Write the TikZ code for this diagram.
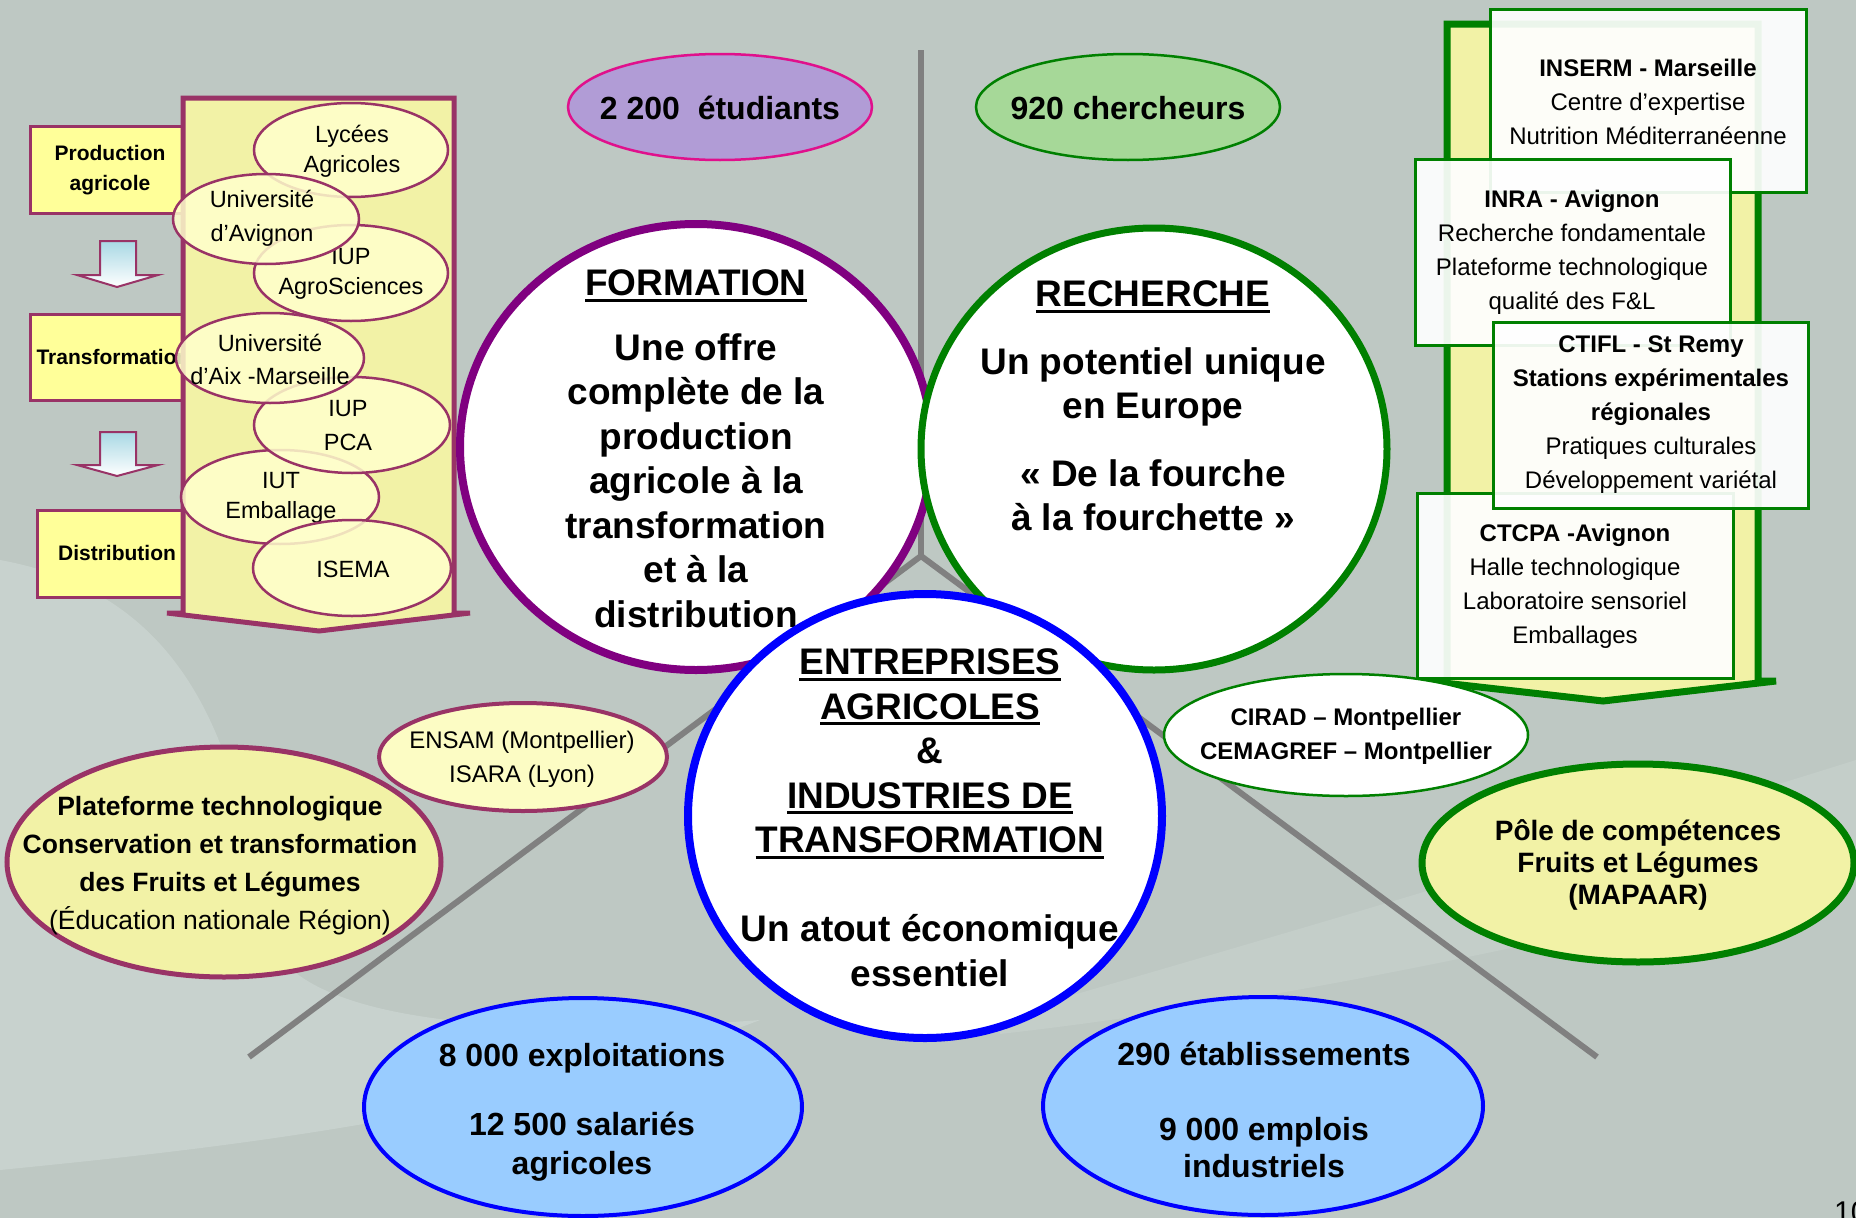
\documentclass[tikz,border=0pt]{standalone}
\usepackage{fontspec}
\setmainfont{Liberation Sans}
\usepackage{tikz}

\definecolor{bgGray}{RGB}{190,200,195}
\definecolor{bgLight}{RGB}{200,210,206}
\definecolor{plum}{RGB}{153,51,102}
\definecolor{boxYellow}{RGB}{255,255,153}
\definecolor{panelYellow}{RGB}{242,242,166}
\definecolor{paleYellow}{RGB}{255,255,204}
\definecolor{lavender}{RGB}{177,156,214}
\definecolor{pinkLine}{RGB}{224,16,140}
\definecolor{mint}{RGB}{166,216,152}
\definecolor{leaf}{RGB}{0,128,0}
\definecolor{purpleRing}{RGB}{128,0,128}
\definecolor{skyBlue}{RGB}{153,204,255}
\definecolor{arrowBlue}{RGB}{168,216,228}
\definecolor{spokeGray}{RGB}{128,128,128}

\def\sz#1#2{\fontsize{#1}{#2}\selectfont}
\def\ulined#1{\setbox0\hbox{#1}\rlap{\rule[-6pt]{\wd0}{3pt}}\box0}

\tikzset{
  spoke/.style={line width=6pt, draw=spokeGray},
  stagebox/.style={line width=3pt, draw=plum, fill=boxYellow},
  stagetext/.style={inner sep=0pt, align=center, font=\sz{21}{30}\bfseries},
  downarrow/.style={line width=2pt, draw=plum, top color=arrowBlue, bottom color=white},
  school/.style={line width=2.5pt, draw=plum, fill=paleYellow, fill opacity=0.85},
  schooltext/.style={inner sep=0pt, align=center, font=\sz{23.5}{30}},
  labobox/.style={line width=3pt, draw=leaf, fill=white, fill opacity=0.92},
  labotext/.style={inner sep=0pt, align=center, font=\sz{24}{34}},
  figtext/.style={inner sep=0pt, align=center, font=\sz{32}{38}\bfseries},
  ringtext/.style={inner sep=0pt, align=center, font=\sz{37}{44.5}\bfseries},
}

\begin{document}
\begin{tikzpicture}[x=1pt, y=-1pt]
			%%%%% START %%%%%
			
			\fill[bgGray] (0,0) rectangle (1856,1218);
			\useasboundingbox (0,0) rectangle (1856,1218);
			
			% light swooshes of the slide background
			\fill[bgLight] (0,560) .. controls (220,600) and (240,800) .. (270,940) .. controls (300,1020) and (500,1040) .. (760,1020) .. controls (500,1120) and (200,1150) .. (0,1170) -- cycle;
			\fill[bgLight, opacity=0.6] (1000,1016) .. controls (1300,930) and (1600,840) .. (1856,760) -- (1856,870) .. controls (1600,930) and (1300,1000) .. (1000,1034) -- cycle;
			
			% the Y behind the three circles
			\coordinate (hub) at (921,556);
			\coordinate (spokeTop) at (921,50);
			\coordinate (spokeLeft) at (249,1057);
			\coordinate (spokeRight) at (1597,1057);
			\draw[spoke] (spokeTop) -- (hub);
			\draw[spoke] (hub) -- (spokeLeft);
			\draw[spoke] (hub) -- (spokeRight);
			
			\draw[line width=2.5pt, draw=pinkLine, fill=lavender] (720,107) ellipse (152 and 53);
			\node[figtext] (students) at (720,108) {2 200 \ étudiants};
			\draw[line width=2.5pt, draw=leaf, fill=mint] (1128,107) ellipse (152 and 53);
			\node[figtext] (researchers) at (1128,108) {920 chercheurs};
			
			% chain on the left
			\draw[stagebox] (30,126) rectangle (196,213);
			\node[stagetext] (production) at (110,170) {Production\\ agricole};
			\draw[stagebox] (30,314) rectangle (196,400);
			\node[stagetext] (transformation) at (113,357) {Transformation};
			\draw[stagebox] (37,510) rectangle (196,597);
			\node[stagetext] (distribution) at (117,553) {Distribution};
			
			\draw[downarrow] (100,241) -- (136,241) -- (136,275) -- (158,275) -- (117,287) -- (77,275) -- (100,275) -- cycle;
			\draw[downarrow] (100,432) -- (136,432) -- (136,465) -- (158,465) -- (117,476) -- (77,465) -- (100,465) -- cycle;
			
			\draw[line width=5pt, draw=plum, fill=panelYellow] (167,613) -- (183,613) -- (183,98) -- (454,98) -- (454,613) -- (470,613) -- (319,631) -- cycle;
			
			\draw[school] (351,150) ellipse (97 and 47);
			\node[schooltext] (lycees) at (352,151) {Lycées\\ Agricoles};
			\draw[school] (351,273) ellipse (97 and 48);
			\node[schooltext] (iupAgro) at (351,274) {IUP\\ AgroSciences};
			\draw[school] (266,219) ellipse (93 and 45);
			\node[schooltext, font=\sz{23.5}{34}] (univAvignon) at (262,218) {Université\\ d’Avignon};
			\draw[school] (280,497) ellipse (99 and 47);
			\node[schooltext] (iutEmb) at (281,498) {IUT\\ Emballage};
			\draw[school] (352,425) ellipse (98 and 48);
			\node[schooltext, font=\sz{23.5}{34}] (iupPca) at (348,426) {IUP\\ PCA};
			\draw[school] (270,358) ellipse (94 and 45);
			\node[schooltext, font=\sz{23.5}{33}] (univAix) at (270,359) {Université\\ d’Aix -Marseille};
			\draw[school] (352,568) ellipse (99 and 48);
			\node[schooltext] (isema) at (353,569) {ISEMA};
			
			% research centres on the right
			\draw[line width=7pt, draw=leaf, fill=panelYellow] (1426,681) -- (1447,681) -- (1447,24) -- (1758,24) -- (1758,681) -- (1776,681) -- (1603,701) -- cycle;
			
			\draw[labobox] (1490,9) rectangle (1806,192);
			\node[labotext] (inserm) at (1648,102) {\bfseries INSERM - Marseille\\ Centre d’expertise\\ Nutrition Méditerranéenne};
			\draw[labobox] (1415,159) rectangle (1730,345);
			\node[labotext] (inra) at (1572,252) {\bfseries INRA - Avignon\\ Recherche fondamentale\\ Plateforme technologique\\ qualité des F\&L};
			\draw[labobox] (1417,493) rectangle (1733,678);
			\node[labotext] (ctcpa) at (1575,586) {\bfseries CTCPA -Avignon\\ Halle technologique\\ Laboratoire sensoriel\\ Emballages};
			\draw[labobox] (1493,322) rectangle (1808,508);
			\node[labotext] (ctifl) at (1651,415) {\bfseries CTIFL - St Remy\\ \bfseries Stations expérimentales\\ \bfseries régionales\\ Pratiques culturales\\ Développement variétal};
			
			% the three poles
			\draw[line width=8pt, draw=purpleRing, fill=white] (696,447) ellipse (236 and 223);
			\draw[line width=7pt, draw=leaf, fill=white] (1154,449) ellipse (233 and 221);
			\node[ringtext] (formation) at (696,449) {\ulined{FORMATION}\\[20pt] Une offre\\ complète de la\\ production\\ agricole à la\\ transformation\\ et à la\\ distribution};
			\node[ringtext] (recherche) at (1153,406) {\ulined{RECHERCHE}\\[23pt] Un potentiel unique\\ en Europe\\[23pt] « De la fourche\\ à la fourchette »};
			\draw[line width=8pt, draw=blue, fill=white] (925,816) ellipse (237 and 222);
			\node[ringtext] (entreprises) at (930,818) {\ulined{ENTREPRISES}\\ \ulined{AGRICOLES}\\ \&\\ \ulined{INDUSTRIES DE}\\ \ulined{TRANSFORMATION}\\[44.5pt] Un atout économique\\ essentiel};
			
			% partners round the poles
			\draw[line width=4pt, draw=plum, fill=paleYellow!80!panelYellow] (523,757) ellipse (144 and 54);
			\node[inner sep=0pt, align=center, font=\sz{24}{34}] (ensam) at (522,759) {ENSAM (Montpellier)\\ ISARA (Lyon)};
			\draw[line width=5pt, draw=plum, fill=panelYellow] (224,862) ellipse (217 and 115);
			\node[inner sep=0pt, align=center, font=\sz{26.5}{38}\bfseries] (plateforme) at (220,866) {Plateforme technologique\\ Conservation et transformation\\ des Fruits et Légumes\\ \mdseries(Éducation nationale Région)};
			\draw[line width=2.5pt, draw=leaf, fill=white] (1346,735) ellipse (182 and 61);
			\node[inner sep=0pt, align=center, font=\sz{24}{34}\bfseries] (cirad) at (1346,736) {CIRAD – Montpellier\\ CEMAGREF – Montpellier};
			\draw[line width=7pt, draw=leaf, fill=panelYellow] (1638,863) ellipse (216 and 99);
			\node[inner sep=0pt, align=center, font=\sz{28}{32}\bfseries] (pole) at (1638,865) {Pôle de compétences\\ Fruits et Légumes\\ (MAPAAR)};
			
			\draw[line width=4pt, draw=blue, fill=skyBlue] (583,1107) ellipse (219 and 109);
			\node[inner sep=0pt, align=center, font=\sz{32}{39}\bfseries] (farms) at (582,1112) {8 000 exploitations\\[30pt] 12 500 salariés\\ agricoles};
			\draw[line width=4pt, draw=blue, fill=skyBlue] (1263,1106) ellipse (220 and 109);
			\node[inner sep=0pt, align=center, font=\sz{32}{37}\bfseries] (plants) at (1264,1110) {290 établissements\\[38pt] 9 000 emplois\\ industriels};
			
			\node[inner sep=0pt, anchor=base west, font=\sz{30}{36}] (slideNo) at (1834,1222) {10};
			
			%%%%% END %%%%%
\end{tikzpicture}
\end{document}
